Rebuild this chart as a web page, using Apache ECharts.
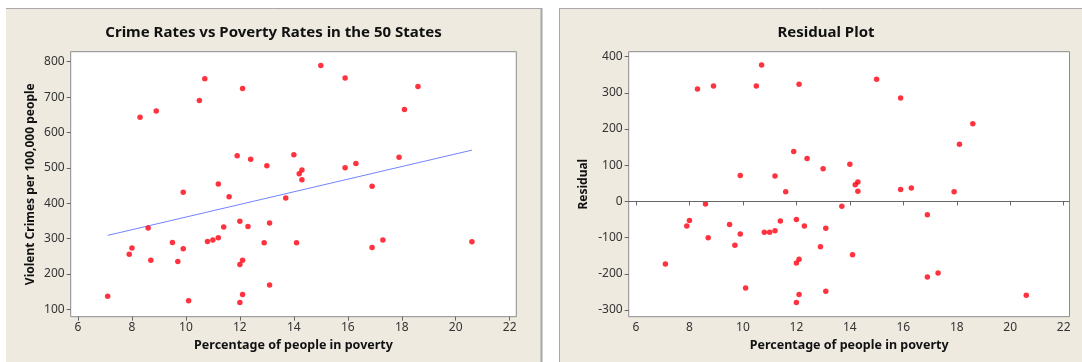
<!DOCTYPE html>
<html>
<head>
<meta charset="utf-8">
<script src="https://cdn.jsdelivr.net/npm/echarts@6/dist/echarts.min.js"></script>
<style>
html,body{margin:0;padding:0;background:#fff;}
#c{width:1082px;height:362px;}
</style>
</head>
<body>
<div id="c"></div>
<script>
const povertyPct = [7.1,7.9,8.0,8.3,8.6,8.7,8.9,9.5,9.7,9.9,9.9,10.1,10.5,10.7,10.8,11.0,11.2,11.2,11.4,11.6,11.9,12.0,12.0,12.0,12.1,12.1,12.1,12.3,12.4,12.9,13.0,13.1,13.1,13.7,14.0,14.1,14.2,14.3,14.3,15.0,15.9,15.9,16.3,16.9,16.9,17.3,17.9,18.1,18.6,20.6];
const crimeRate = [137,256,273,643,330,239,661,289,235,431,271,124,690,752,292,296,302,454,333,418,534,349,227,119,724,239,142,334,524,288,506,344,169,415,537,288,483,494,466,789,754,500,512,448,275,296,530,665,730,291];
const residualPoverty = [7.1,7.9,8.0,8.3,8.6,8.7,8.9,9.5,9.7,9.9,9.9,10.1,10.5,10.7,10.8,11.0,11.2,11.2,11.4,11.6,11.9,12.0,12.0,12.0,12.1,12.1,12.1,12.3,12.4,12.9,13.0,13.1,13.1,13.7,14.0,14.1,14.2,14.3,14.3,15.0,15.9,15.9,16.3,16.9,16.9,17.3,17.9,18.1,18.6,20.6];
const residuals = [-173,-68,-53,311,-7,-100,319,-64,-121,72,-90,-239,319,377,-85,-85,-81,70,-54,27,138,-50,-170,-279,324,-160,-257,-68,119,-125,90,-74,-248,-13,103,-147,46,54,28,338,286,33,37,-37,-209,-198,27,158,215,-259];
const fitLineX = [7.1, 20.6];
const fitLineY = [309, 550];
const xTicks = [6,8,10,12,14,16,18,20,22];
const crimeTicks = [100,200,300,400,500,600,700,800];
const residualTicks = [-300,-200,-100,0,100,200,300,400];
const titles = ['Crime Rates vs Poverty Rates in the 50 States', 'Residual Plot'];
const xTitle = 'Percentage of people in poverty';
const yTitles = ['Violent Crimes per 100,000 people', 'Residual'];

const FONT = 'Noto Sans';
const chart = echarts.init(document.getElementById('c'), null, {renderer:'canvas'});

function xAxis(gi, min, max) {
  return {
    type:'value', gridIndex:gi, min:min, max:max,
    name:xTitle, nameLocation:'middle', nameGap:21,
    nameTextStyle:{fontFamily:FONT, fontWeight:'bold', fontSize:12.5, color:'#111'},
    axisLine:{show:false},
    splitLine:{show:false},
    axisTick:{show:true, length:4, customValues:xTicks, lineStyle:{color:'#666'}},
    axisLabel:{customValues:xTicks, margin:5, fontFamily:FONT, fontSize:12, color:'#333'}
  };
}
function yAxis(gi, min, max, ticks, name, gap) {
  return {
    type:'value', gridIndex:gi, min:min, max:max,
    name:name, nameLocation:'middle', nameGap:gap,
    nameTextStyle:{fontFamily:FONT, fontWeight:'bold', fontSize:12, color:'#111'},
    axisLine:{show:false},
    splitLine:{show:false},
    axisTick:{show:true, length:4, customValues:ticks, lineStyle:{color:'#666'}},
    axisLabel:{customValues:ticks, margin:6, fontFamily:FONT, fontSize:12, color:'#333'}
  };
}

const option = {
  backgroundColor:'#fff',
  animation:false,
  graphic:[
    {type:'rect', z:-100, shape:{x:6, y:8, width:535, height:360}, style:{fill:'#EEEAE0'}},
    {type:'line', z:-99, shape:{x1:6, y1:8.5, x2:541, y2:8.5}, style:{stroke:'#a8a8a8', lineWidth:1}},
    {type:'line', z:-99, shape:{x1:541.5, y1:8, x2:541.5, y2:362}, style:{stroke:'#a8a8a8', lineWidth:2}},
    {type:'rect', z:-100, shape:{x:559, y:8, width:530, height:360}, style:{fill:'#EEEAE0'}},
    {type:'line', z:-99, shape:{x1:559, y1:8.5, x2:1082, y2:8.5}, style:{stroke:'#a8a8a8', lineWidth:1}},
    {type:'line', z:-99, shape:{x1:559.5, y1:8, x2:559.5, y2:362}, style:{stroke:'#a8a8a8', lineWidth:1}},
    {type:'text', z:10, x:273.5, y:33, style:{text:titles[0], textAlign:'center', textVerticalAlign:'middle', font:'bold 15px "Noto Sans"', fill:'#111'}},
    {type:'text', z:10, x:826, y:33, style:{text:titles[1], textAlign:'center', textVerticalAlign:'middle', font:'bold 15px "Noto Sans"', fill:'#111'}}
  ],
  grid:[
    {left:70.7, top:51.7, width:445.6, height:265, show:true, backgroundColor:'#fff', borderColor:'#8c8c8c', borderWidth:1},
    {left:628.7, top:51.7, width:440.8, height:265, show:true, backgroundColor:'#fff', borderColor:'#8c8c8c', borderWidth:1}
  ],
  xAxis:[ xAxis(0, 5.73, 22.245), xAxis(1, 5.727, 22.217) ],
  yAxis:[
    yAxis(0, 79.1, 828.3, crimeTicks, yTitles[0], 34),
    yAxis(1, -318.5, 413.8, residualTicks, yTitles[1], 39)
  ],
  series:[
    {type:'line', xAxisIndex:0, yAxisIndex:0, data:fitLineX.map((x,i)=>[x, fitLineY[i]]),
     symbol:'none', lineStyle:{color:'#7383ff', width:1}, z:2, silent:true},
    {type:'scatter', xAxisIndex:0, yAxisIndex:0, data:povertyPct.map((x,i)=>[x, crimeRate[i]]),
     symbol:'circle', symbolSize:5.5, itemStyle:{color:'#ff0010'}, z:3},
    {type:'scatter', xAxisIndex:1, yAxisIndex:1, data:residualPoverty.map((x,i)=>[x, residuals[i]]),
     symbol:'circle', symbolSize:5.5, itemStyle:{color:'#ff0010'}, z:3,
     markLine:{silent:true, symbol:'none', label:{show:false}, lineStyle:{color:'#666', type:'solid', width:1.2},
       data:[{yAxis:0}]}}
  ]
};
chart.setOption(option);
</script>
</body>
</html>
